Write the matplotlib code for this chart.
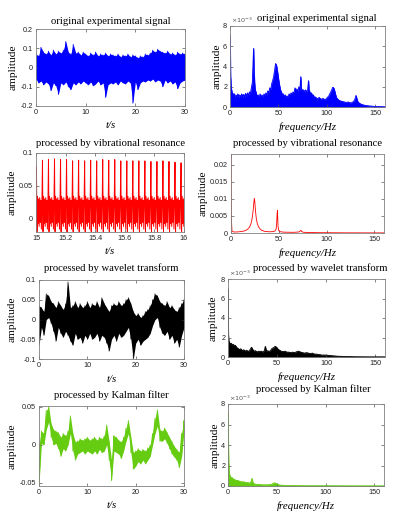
import numpy as np
import matplotlib as mpl
mpl.use('Agg')
from matplotlib import pyplot as plt
from matplotlib.ticker import FuncFormatter

# ---- time signals: upper / lower extremes read every 0.5 s (0..30 s) ----
orig_hi = [0.07, 0.06, 0.105, 0.08, 0.07, 0.085, 0.065, 0.09, 0.07, 0.085,
           0.075, 0.09, 0.135, 0.08, 0.07, 0.12, 0.075, 0.08, 0.065, 0.08,
           0.07, 0.06, 0.075, 0.065, 0.08, 0.06, 0.07, 0.065, 0.075, 0.06,
           0.07, 0.065, 0.06, 0.07, 0.055, 0.065, 0.06, 0.07, 0.055, 0.065,
           0.06, 0.05, 0.06, 0.055, 0.07, 0.065, 0.075, 0.09, 0.08, 0.095,
           0.085, 0.08, 0.075, 0.085, 0.07, 0.075, 0.065, 0.08, 0.07, 0.075,
           0.07]
orig_lo = [-0.06, -0.08, -0.07, -0.09, -0.075, -0.085, -0.12, -0.08, -0.095, -0.14,
           -0.08, -0.09, -0.075, -0.1, -0.115, -0.08, -0.09, -0.075, -0.085, -0.07,
           -0.08, -0.09, -0.075, -0.095, -0.085, -0.07, -0.09, -0.08, -0.155, -0.09,
           -0.08, -0.085, -0.075, -0.09, -0.07, -0.08, -0.085, -0.07, -0.08, -0.185,
           -0.075, -0.115, -0.08, -0.07, -0.075, -0.065, -0.07, -0.06, -0.075, -0.065,
           -0.07, -0.1, -0.065, -0.08, -0.07, -0.085, -0.075, -0.11, -0.08, -0.07,
           -0.065]

wt_hi = [0.035, 0.03, 0.02, 0.065, 0.06, 0.045, 0.04, 0.03, 0.045, 0.035,
         0.025, 0.04, 0.095, 0.03, 0.035, 0.045, 0.03, 0.04, 0.03, 0.035,
         0.045, 0.03, 0.04, 0.035, 0.045, 0.03, 0.055, 0.04, 0.03, 0.02,
         0.035, 0.04, 0.035, 0.045, 0.035, 0.04, 0.05, 0.055, 0.04, 0.02,
         0.01, 0.015, 0.005, 0.01, 0.02, 0.025, 0.035, 0.05, 0.065, 0.06,
         0.045, 0.04, 0.035, 0.045, 0.03, 0.035, 0.025, 0.02, 0.03, 0.04,
         0.05]
wt_lo = [-0.065, -0.02, -0.04, 0.0, 0.005, -0.01, -0.03, -0.055, -0.02, -0.035,
         -0.045, -0.03, -0.04, -0.055, -0.065, -0.035, -0.05, -0.045, -0.06, -0.04,
         -0.05, -0.035, -0.05, -0.045, -0.035, -0.055, -0.04, -0.045, -0.06, -0.08,
         -0.05, -0.04, -0.055, -0.035, -0.045, -0.04, -0.03, -0.02, -0.05, -0.1,
         -0.06, -0.05, -0.065, -0.055, -0.05, -0.045, -0.035, -0.015, 0.0, 0.005,
         -0.02, -0.035, -0.04, -0.03, -0.05, -0.04, -0.06, -0.05, -0.07, -0.04,
         -0.02]

kf_hi = [0.0, 0.018, 0.015, 0.045, 0.05, 0.028, 0.02, 0.018, 0.016, 0.01,
         0.015, 0.012, 0.018, 0.038, 0.015, 0.004, 0.005, 0.008, 0.006, 0.008,
         0.01, 0.006, 0.008, 0.01, 0.006, 0.01, 0.008, 0.012, 0.026, 0.005,
         -0.02, 0.012, 0.01, 0.006, 0.004, 0.01, 0.022, 0.032, 0.01, -0.01,
         -0.008, -0.005, -0.008, -0.006, -0.008, -0.004, 0.0, 0.015, 0.035, 0.046,
         0.02, 0.018, 0.022, 0.016, 0.01, 0.004, -0.002, -0.006, -0.01, 0.015,
         0.032]
kf_lo = [-0.052, 0.002, 0.0, 0.02, 0.03, 0.01, 0.0, 0.002, -0.005, -0.015,
         -0.005, -0.008, 0.0, 0.015, -0.008, -0.02, -0.012, -0.01, -0.008, -0.012,
         -0.008, -0.01, -0.012, -0.008, -0.012, -0.006, -0.01, -0.008, 0.0, -0.02,
         -0.047, -0.008, -0.01, -0.012, -0.018, -0.008, 0.005, 0.015, -0.01, -0.032,
         -0.028, -0.022, -0.025, -0.02, -0.025, -0.02, -0.015, 0.0, 0.015, 0.025,
         0.005, 0.005, 0.008, 0.002, -0.005, -0.012, -0.016, -0.02, -0.03, -0.015,
         0.018]

# vibrational resonance output, 15-16 s: peak of each cycle and the samples in between
vr_peak = [0.079, 0.089, 0.090, 0.091, 0.090, 0.090, 0.088, 0.089, 0.088, 0.089,
           0.088, 0.090, 0.089, 0.090, 0.088, 0.088, 0.088, 0.088, 0.088, 0.087,
           0.087, 0.088, 0.087, 0.086, 0.085]
vr_between = [-0.020, 0.034, -0.008, 0.030, -0.012, 0.032, -0.006, 0.028, -0.016, 0.024]

# ---- spectra (amplitude in units of 1e-3) ----
orig_f = [0, 0.6, 1.2, 2, 3, 4, 5, 6, 7, 8,
          9, 10, 11, 12, 13, 14, 15, 16, 17, 18,
          19, 20, 21, 22, 23, 23.8, 24.3, 24.8, 25.5, 26,
          27, 28, 29, 30, 31, 32, 33, 34, 35, 36,
          37, 38, 39, 40, 41, 42, 43, 44, 45, 46,
          47, 48, 49, 50, 51, 52, 53, 54, 55, 56,
          57, 58, 59, 60, 61, 62, 63, 64, 65, 66,
          67, 68, 69, 70, 71, 72, 73, 73.6, 74, 75,
          76, 77, 78, 79, 80, 81, 81.6, 82, 83, 84,
          85, 86, 87, 88, 90, 92, 94, 96, 98, 100,
          102, 103, 104, 105, 106, 107, 108, 109, 110, 112,
          114, 116, 118, 120, 122, 124, 126, 128, 129, 130,
          131, 132, 134, 136, 138, 140, 143, 146, 150, 155,
          160]
orig_amp = [7.1, 3.0, 1.9, 1.5, 1.1, 1.35, 0.9, 1.2, 1.0, 1.3,
            0.9, 1.2, 1.0, 1.3, 0.95, 1.25, 1.0, 1.35, 1.05, 1.4,
            1.1, 1.5, 1.3, 1.9, 2.4, 4.5, 5.8, 3.5, 2.2, 1.7,
            1.4, 1.0, 1.2, 0.9, 1.3, 1.0, 1.2, 0.9, 1.3, 1.1,
            1.4, 1.2, 1.6, 1.4, 1.9, 1.7, 2.3, 2.6, 3.0, 3.6,
            4.3, 4.1, 3.5, 2.8, 2.2, 1.7, 1.5, 1.2, 1.3, 1.0,
            1.2, 0.9, 1.1, 1.0, 1.3, 1.1, 1.4, 1.2, 1.5, 1.3,
            1.9, 1.5, 1.8, 1.4, 2.0, 1.6, 3.0, 1.6, 1.8, 1.5,
            1.7, 1.4, 1.7, 1.5, 1.6, 2.6, 1.5, 1.6, 1.3, 1.4,
            1.1, 1.2, 0.9, 1.0, 0.8, 0.95, 0.75, 0.85, 0.7, 0.9,
            1.1, 1.3, 1.5, 1.7, 1.95, 1.9, 1.6, 1.2, 0.9, 0.7,
            0.6, 0.55, 0.5, 0.45, 0.5, 0.4, 0.45, 0.6, 0.8, 1.15,
            0.8, 0.5, 0.35, 0.25, 0.2, 0.15, 0.12, 0.08, 0.05, 0.04,
            0.03]

vr_f = [0, 0.3, 1, 3, 6, 10, 14, 17, 19, 20.5,
        21.5, 22.5, 23.3, 23.9, 24.4, 24.9, 25.5, 26.3, 27.3, 28.5,
        30, 32, 35, 40, 44, 46, 47.2, 47.8, 48.2, 48.5,
        48.8, 49.2, 49.8, 51, 55, 65, 71, 72.5, 73.2, 74,
        76, 90, 120, 160]
vr_amp = [23, 5, 0.6, 0.3, 0.3, 0.4, 0.6, 1.0, 1.6, 2.4,
          3.4, 5.0, 7.0, 9.0, 10.2, 9.2, 6.8, 4.6, 3.0, 2.0,
          1.3, 0.8, 0.5, 0.35, 0.4, 0.6, 1.2, 3.0, 5.5, 6.6,
          5.0, 2.0, 0.8, 0.4, 0.25, 0.2, 0.3, 0.6, 0.8, 0.4,
          0.2, 0.1, 0.05, 0.03]

wt_f = [0, 0.3, 0.8, 1.5, 2.5, 3.5, 4.5, 5.5, 6.5, 7.5,
        8.5, 10, 11.5, 13, 14.5, 16, 17.5, 19, 20.5, 22,
        23, 24, 25, 26.5, 28, 29.5, 31, 32.5, 34, 35.5,
        37, 38, 39, 40.5, 42, 43.5, 45, 46.5, 48, 49.5,
        51, 52.5, 54, 56, 58, 60, 62, 64, 66, 68,
        70, 72, 74, 76, 78, 80, 82, 84, 86, 88,
        90, 93, 96, 100, 104, 108, 112, 120, 130, 145,
        160]
wt_amp = [7.0, 2.4, 1.6, 1.5, 1.3, 1.4, 1.2, 1.3, 1.1, 1.2,
          1.0, 0.9, 0.75, 0.85, 0.65, 0.75, 0.6, 0.7, 0.55, 0.7,
          0.85, 1.0, 0.8, 0.6, 0.65, 0.5, 0.6, 0.55, 0.6, 0.5,
          0.65, 1.1, 0.6, 0.65, 0.55, 0.7, 0.9, 0.95, 1.1, 1.0,
          0.8, 0.7, 0.6, 0.55, 0.6, 0.5, 0.5, 0.45, 0.5, 0.45,
          0.55, 0.6, 0.5, 0.45, 0.4, 0.45, 0.4, 0.35, 0.4, 0.3,
          0.3, 0.25, 0.2, 0.2, 0.15, 0.12, 0.08, 0.05, 0.03, 0.02,
          0.02]

kf_f = [0, 0.3, 0.7, 1.2, 2, 3, 4, 5, 6, 7,
        8, 9, 10, 12, 14, 16, 18, 20, 22, 23,
        24, 24.6, 25.2, 26, 28, 30, 33, 36, 40, 43,
        45, 46.5, 48, 49.5, 51, 53, 56, 60, 70, 80,
        100, 130, 160]
kf_amp = [7.2, 4.5, 2.2, 1.3, 0.95, 0.8, 0.85, 0.65, 0.7, 0.55,
          0.6, 0.5, 0.55, 0.45, 0.4, 0.42, 0.35, 0.33, 0.3, 0.35,
          0.5, 0.75, 0.45, 0.25, 0.18, 0.15, 0.14, 0.12, 0.12, 0.14,
          0.18, 0.28, 0.3, 0.25, 0.15, 0.1, 0.07, 0.05, 0.04, 0.03,
          0.03, 0.02, 0.02]

BLUE = '#0000ff'
RED = '#ff0000'
BLACK = '#000000'
GREEN = '#66cc11'

W, H = 397, 532
fig = plt.figure(figsize=(W / 100, H / 100), dpi=100)
SERIF = 'Liberation Serif'


def make_axes(box):
    l, r, t, b = box
    return fig.add_axes([l / W, 1 - b / H, (r - l) / W, (b - t) / H])


def style(ax, box, title, xlabel, xticks, yticks, xlim, ylim,
          title_x=0.5, title_pad=4.0, ylab_x=None, scale=None):
    l, r, t, b = box
    ax.set_xlim(*xlim)
    ax.set_ylim(*ylim)
    ax.set_xticks(xticks)
    ax.set_yticks(yticks)
    ax.xaxis.set_major_formatter(FuncFormatter(lambda v, p: f'{v:g}'))
    s = scale if scale else 1
    ax.yaxis.set_major_formatter(FuncFormatter(lambda v, p: f'{v / s:g}'))
    ax.tick_params(direction='in', length=2, width=0.5, top=True, right=True,
                   labelsize=5.2, pad=2, color='#555555', labelcolor='#222222')
    for sp in ax.spines.values():
        sp.set_color('#808080')
        sp.set_linewidth(0.6)
    for lab in ax.get_xticklabels() + ax.get_yticklabels():
        lab.set_family('Liberation Sans')
    ax.set_title(title, fontsize=7.7, family=SERIF, pad=title_pad, x=title_x)
    ax.text(0.5, -20 / (b - t), xlabel, transform=ax.transAxes, ha='center',
            va='center', fontsize=7.8, family=SERIF, style='italic')
    ax.text((ylab_x - l) / (r - l), 0.5, 'amplitude', transform=ax.transAxes,
            rotation=90, ha='center', va='center', fontsize=8.2, family=SERIF)
    if scale:
        ax.text(0.005, 1.0 + 6 / (b - t), r'$\times10^{-3}$', transform=ax.transAxes,
                ha='left', va='center', fontsize=4.6, color='#555555')


def band(ax, hi, lo, t0, t1, color, lw=0.6, alpha=1.0):
    t = np.linspace(t0, t1, len(hi))
    ax.fill_between(t, lo, hi, color=color, lw=0, alpha=alpha)
    tt = np.column_stack([t, t]).ravel()
    yy = np.column_stack([hi, lo]).ravel()
    ax.plot(tt, yy, color=color, lw=lw)


def spectrum(ax, f, amp, color, fill=True):
    a = np.array(amp) * 1e-3
    if fill:
        ax.fill_between(f, 0, a, color=color, lw=0.4)
    ax.plot(f, a, color=color, lw=0.6)


# boxes in pixels: left, right, top, bottom
B1 = (36, 185, 29, 106)
B2 = (230, 385, 26, 107)
B3 = (36, 184, 153, 232)
B4 = (231, 384, 154, 233)
B5 = (39, 184, 280, 359)
B6 = (228, 385, 279, 357)
B7 = (39, 184, 406, 486)
B8 = (228, 384, 404, 486)

# row 1
ax = make_axes(B1)
band(ax, orig_hi, orig_lo, 0, 30, BLUE)
style(ax, B1, 'original experimental signal', 't/s', [0, 10, 20, 30],
      [-0.2, -0.1, 0, 0.1, 0.2], (0, 30), (-0.2, 0.2), title_pad=3.5, ylab_x=12.7)

ax = make_axes(B2)
spectrum(ax, orig_f, orig_amp, BLUE)
style(ax, B2, 'original experimental signal', 'frequency/Hz', [0, 50, 100, 150],
      [0, 0.002, 0.004, 0.006, 0.008], (0, 160), (0, 0.008),
      title_x=0.56, title_pad=3.5, ylab_x=216.7, scale=1e-3)

# row 2
ax = make_axes(B3)
vr_y = []
for p in vr_peak:
    vr_y.append(p)
    vr_y.extend(vr_between)
vr_t = np.linspace(15.003, 16.017, len(vr_y))
ax.plot(vr_t, vr_y, color=RED, lw=0.7)
style(ax, B3, 'processed by vibrational resonance', 't/s',
      [15, 15.2, 15.4, 15.6, 15.8, 16], [0, 0.05, 0.1], (15, 16), (-0.0205, 0.1),
      title_pad=5, ylab_x=11.7)

ax = make_axes(B4)
spectrum(ax, vr_f, vr_amp, RED, fill=False)
style(ax, B4, 'processed by vibrational resonance', 'frequency/Hz', [0, 50, 100, 150],
      [0, 0.005, 0.01, 0.015, 0.02], (0, 160), (0, 0.0232),
      title_pad=6, ylab_x=203)

# row 3
ax = make_axes(B5)
band(ax, wt_hi, wt_lo, 0, 30, BLACK, lw=0.5)
style(ax, B5, 'processed by wavelet transform', 't/s', [0, 10, 20, 30],
      [-0.1, -0.05, 0, 0.05, 0.1], (0, 30), (-0.1, 0.1), title_pad=6.5, ylab_x=11.7)

ax = make_axes(B6)
spectrum(ax, wt_f, wt_amp, BLACK)
style(ax, B6, 'processed by wavelet transform', 'frequency/Hz', [0, 50, 100, 150],
      [0, 0.002, 0.004, 0.006, 0.008], (0, 160), (0, 0.008),
      title_x=0.585, title_pad=6, ylab_x=213.3, scale=1e-3)

# row 4
ax = make_axes(B7)
band(ax, kf_hi, kf_lo, 0, 30, GREEN)
style(ax, B7, 'processed by Kalman filter', 't/s', [0, 10, 20, 30],
      [-0.05, 0, 0.05], (0, 30), (-0.054, 0.051), title_pad=6, ylab_x=11.7)

ax = make_axes(B8)
spectrum(ax, kf_f, kf_amp, GREEN)
style(ax, B8, 'processed by Kalman filter', 'frequency/Hz', [0, 50, 100, 150],
      [0, 0.002, 0.004, 0.006, 0.008], (0, 160), (0, 0.008),
      title_x=0.55, title_pad=9, ylab_x=215, scale=1e-3)

fig.savefig('out.png', dpi=100)
